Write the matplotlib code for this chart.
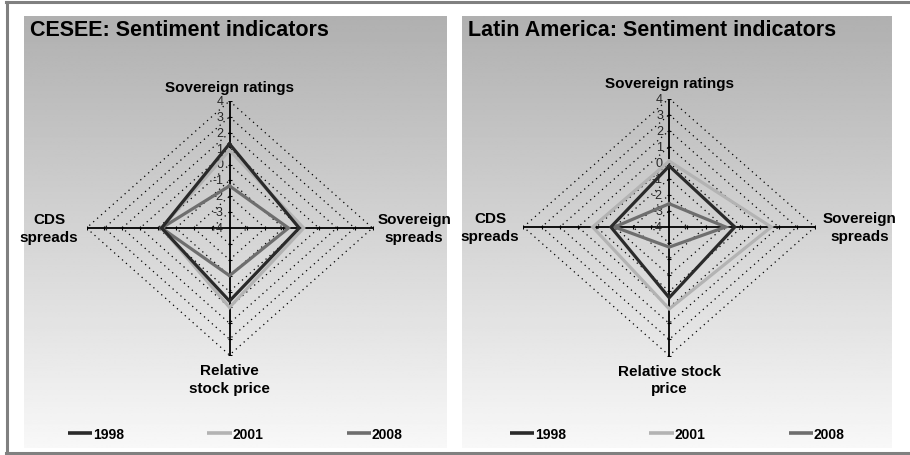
import numpy as np
import matplotlib
matplotlib.use("Agg")
import matplotlib.pyplot as plt
from matplotlib.lines import Line2D
from matplotlib import font_manager as fm

# ---------------- data ----------------
panel_titles = ["CESEE: Sentiment indicators", "Latin America: Sentiment indicators"]
axis_labels_left = ["Sovereign ratings", "Sovereign\nspreads", "Relative\nstock price", "CDS\nspreads"]
axis_labels_right = ["Sovereign ratings", "Sovereign\nspreads", "Relative stock\nprice", "CDS\nspreads"]
years = ["1998", "2001", "2008"]
tick_values = [-4, -3, -2, -1, 0, 1, 2, 3, 4]

# order: Sovereign ratings (top), Sovereign spreads (right), Relative stock price (bottom), CDS spreads (left)
cesee_1998 = [1.3, -0.1, 0.6, -0.2]
cesee_2001 = [0.9, 0.15, 1.0, -0.2]
cesee_2008 = [-1.35, -0.7, -1.0, -0.2]
latam_1998 = [-0.2, -0.4, 0.4, -0.8]
latam_2001 = [0.1, 1.6, 1.1, 0.2]
latam_2008 = [-2.55, -0.9, -2.75, -1.0]

series_colors = {"1998": "#2a2a2a", "2001": "#b3b3b3", "2008": "#6e6e6e"}

W, H = 910, 456
fig = plt.figure(figsize=(W / 100, H / 100), dpi=100)
fig.patch.set_facecolor("white")

names = {f.name for f in fm.fontManager.ttflist}
BASE = "Liberation Sans" if "Liberation Sans" in names else "DejaVu Sans"
NARROW = "Liberation Sans Narrow" if "Liberation Sans Narrow" in names else BASE
plt.rcParams["font.family"] = [BASE, "DejaVu Sans"]


def fbox(x0, y0, x1, y1):
    """pixel box (top-left origin) -> figure fraction rect"""
    return [x0 / W, 1 - y1 / H, (x1 - x0) / W, (y1 - y0) / H]


def background(x0, x1, title, legend_x):
    ax = fig.add_axes(fbox(x0, 17, x1, 449))
    ax.set_xlim(0, 1)
    ax.set_ylim(0, 1)
    grad = np.linspace(0, 1, 256).reshape(-1, 1)
    ax.imshow(grad, extent=[0, 1, 0, 1], aspect="auto", origin="upper",
              cmap="gray", vmin=-2.45, vmax=1.1, interpolation="bilinear", zorder=0)
    ax.axis("off")
    ax.text(6 / (x1 - x0), 1 - 13 / 432, title, transform=ax.transAxes,
            ha="left", va="center", fontsize=15.5, fontweight="bold", color="black")
    handles = [Line2D([], [], color=series_colors[y], lw=2.6, solid_capstyle="butt") for y in years]
    ax.legend(handles, years, loc="center left", ncol=3, frameon=False,
              bbox_to_anchor=(legend_x / W, 1 - 435 / H), bbox_transform=fig.transFigure,
              borderpad=0, borderaxespad=0, handlelength=1.75, handletextpad=0.05,
              columnspacing=6.0, prop={"family": NARROW, "weight": "bold", "size": 10})
    return ax


def radar(cx, cy, rx, ry, series, labels, offs):
    ax = fig.add_axes(fbox(cx - rx, cy - ry, cx + rx, cy + ry))
    rmin, rmax = tick_values[0], tick_values[-1]
    R = rmax - rmin
    ax.set_xlim(-R, R)
    ax.set_ylim(-R, R)
    ax.axis("off")
    ang = np.deg2rad([90, 0, -90, 180])
    # dotted diamond grid
    for lev in tick_values[1:]:
        r = lev - rmin
        xs = np.append(r * np.cos(ang), r * np.cos(ang[0]))
        ys = np.append(r * np.sin(ang), r * np.sin(ang[0]))
        ax.plot(xs, ys, ls=(0, (1, 3.2)), color="black", lw=0.9, zorder=1)
    # spokes
    for a in ang:
        ax.plot([0, R * np.cos(a)], [0, R * np.sin(a)], color="black", lw=1.3, zorder=2)
    rs = np.array(tick_values[1:]) - rmin
    tk = dict(ls="none", ms=3, mew=0.8, color="black", zorder=2)
    ax.plot(np.zeros_like(rs), rs, marker="_", **tk)
    ax.plot(np.zeros_like(rs), -rs, marker="_", **tk)
    ax.plot(rs, np.zeros_like(rs), marker="|", **tk)
    ax.plot(-rs, np.zeros_like(rs), marker="|", **tk)
    # tick labels
    for lev in tick_values:
        ax.annotate(str(lev), (0, lev - rmin), xytext=(-4.5, 0), textcoords="offset points",
                    ha="right", va="center", fontsize=9, color="#262626", zorder=3)
    # series
    for y in ["2001", "2008", "1998"]:
        vals = np.array(series[y]) - rmin
        xs = np.append(vals * np.cos(ang), vals[0] * np.cos(ang[0]))
        ys = np.append(vals * np.sin(ang), vals[0] * np.sin(ang[0]))
        ax.plot(xs, ys, color=series_colors[y], lw=2.3, solid_joinstyle="miter", zorder=4)
    # axis labels
    kw = dict(textcoords="offset points", fontsize=11, fontweight="bold",
              linespacing=1.3, annotation_clip=False, zorder=5)
    ax.annotate(labels[0], (0, R), xytext=(0, offs[0]), ha="center", va="center", **kw)
    ax.annotate(labels[1], (R, 0), xytext=(offs[1], 0), ha="center", va="center", **kw)
    ax.annotate(labels[2], (0, -R), xytext=(0, -offs[2]), ha="center", va="top", **kw)
    ax.annotate(labels[3], (-R, 0), xytext=(-offs[3], 0), ha="center", va="center", **kw)
    return ax


background(24, 447, panel_titles[0], 68)
background(462, 892, panel_titles[1], 510)

radar(229.5, 229, 143, 127,
      {"1998": cesee_1998, "2001": cesee_2001, "2008": cesee_2008},
      axis_labels_left, (10, 30, 6, 27))
radar(669.2, 228, 145.8, 128.5,
      {"1998": latam_1998, "2001": latam_2001, "2008": latam_2008},
      axis_labels_right, (11, 32, 6, 24))

# outer frame
fc = "#808080"
fig.add_artist(Line2D([6 / W, 1], [1 - 3 / H, 1 - 3 / H], transform=fig.transFigure, color=fc, lw=2.2))
fig.add_artist(Line2D([7 / W, 7 / W], [1 - 3 / H, 1 - 454 / H], transform=fig.transFigure, color=fc, lw=2.2))
fig.add_artist(Line2D([6 / W, 1], [1 - 454 / H, 1 - 454 / H], transform=fig.transFigure, color=fc, lw=2.2))

fig.savefig("out.png", dpi=100)
